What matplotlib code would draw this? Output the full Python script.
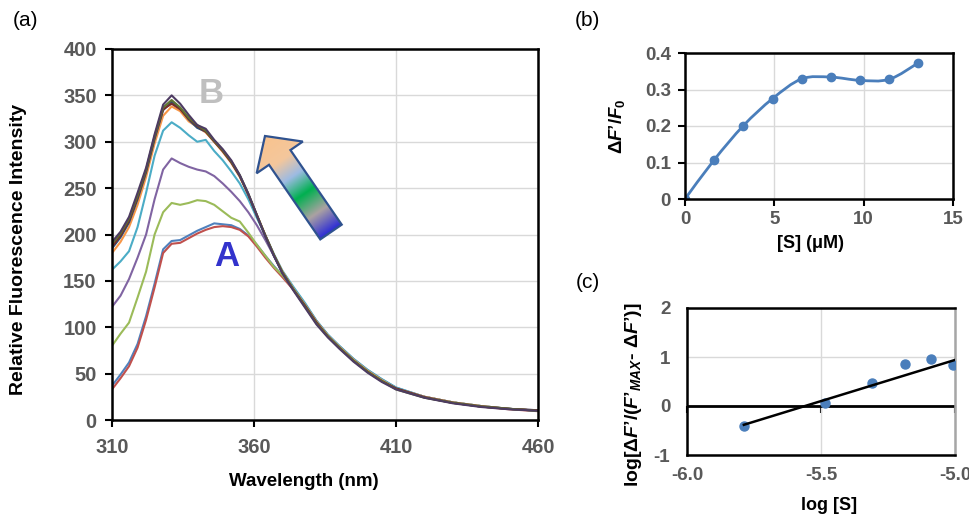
import numpy as np
import matplotlib
matplotlib.use("Agg")
import matplotlib.pyplot as plt
from matplotlib.path import Path
from matplotlib.patches import PathPatch, Polygon
from matplotlib.colors import LinearSegmentedColormap
from matplotlib.ticker import FormatStrFormatter

plt.rcParams['font.family'] = ['Liberation Sans', 'DejaVu Sans']
plt.rcParams['font.weight'] = 'bold'
plt.rcParams['axes.labelweight'] = 'bold'
plt.rcParams['axes.unicode_minus'] = False
plt.rcParams['mathtext.fontset'] = 'custom'
plt.rcParams['mathtext.rm'] = 'Liberation Sans:bold'
plt.rcParams['mathtext.it'] = 'Liberation Sans:italic:bold'
plt.rcParams['mathtext.bf'] = 'Liberation Sans:bold'

# %% data (a) - emission spectra

wl = [310, 313, 316, 319, 322, 325, 328, 331, 334, 337, 340, 343, 346, 349, 352, 355, 358, 361, 364, 367,
      370, 374, 378, 382, 386, 390, 395, 400, 405, 410, 420, 430, 440, 450, 460]

spec_blue = [37, 49, 62, 82, 112, 147, 184, 193, 194, 199, 204, 208, 212, 211, 210, 206, 199, 189, 177, 166,
             156, 142, 125, 107, 92, 80, 66, 54, 44, 35, 25, 19, 15, 12, 10.5]
spec_red = [33, 45, 58, 78, 108, 143, 180, 190, 191, 196, 201, 205, 208, 209, 208, 205, 198, 187, 175, 164,
            154, 140, 123, 106, 91, 79, 65, 53, 43, 34, 25, 19, 14.5, 11.5, 9.5]
spec_green = [80, 93, 105, 132, 160, 200, 224, 234, 232, 234, 237, 236, 232, 225, 218, 214, 202, 189, 177, 165,
              156, 141, 124, 106, 91, 79, 65, 53, 43, 34, 25, 19, 15, 12, 10]
spec_purple = [122, 134, 152, 175, 200, 238, 270, 282, 277, 273, 270, 268, 263, 255, 246, 236, 224, 210, 194, 177,
               160, 141, 124, 106, 91, 79, 65, 53, 43, 34, 25, 19, 15, 12, 10]
spec_aqua = [162, 171, 182, 208, 245, 285, 312, 321, 315, 307, 300, 302, 290, 280, 268, 255, 238, 218, 199, 179,
             161, 143, 126, 107, 92, 80, 66, 54, 44, 35, 25, 19, 15, 12, 10]
spec_orange = [180, 192, 208, 232, 262, 298, 328, 338, 333, 322, 316, 310, 300, 289, 277, 262, 243, 221, 199, 178,
               160, 141, 124, 106, 91, 79, 65, 53, 43, 34, 25, 19, 15, 12, 10]
spec_dblue = [185, 197, 213, 238, 267, 303, 334, 343, 336, 324, 315, 311, 301, 290, 278, 263, 243, 220, 198, 177,
              159, 140, 123, 105, 90, 78, 64, 52, 42, 34, 24.5, 18.5, 14.5, 12, 10]
spec_dred = [187, 199, 215, 240, 269, 305, 335, 341, 335, 325, 317, 311, 300, 290, 278, 263, 243, 221, 199, 178,
             159, 140, 123, 105, 90, 78, 64, 52, 42, 34, 24.5, 18.5, 14.5, 12, 10.5]
spec_dgreen = [190, 201, 217, 242, 270, 306, 337, 345, 337, 326, 318, 312, 301, 291, 279, 264, 244, 221, 199, 178,
               159, 140, 122, 104, 90, 78, 64, 52, 42, 33, 24, 18.5, 14.5, 12, 10]
spec_dpurple = [192, 203, 219, 245, 272, 308, 340, 350, 341, 329, 318, 314, 302, 292, 280, 264, 244, 221, 198, 177,
                158, 139, 121, 103, 89, 77, 63, 51, 41, 33, 24, 18, 14, 11.5, 10]

spectra = [spec_blue, spec_red, spec_green, spec_purple, spec_aqua,
           spec_orange, spec_dblue, spec_dred, spec_dgreen, spec_dpurple]
spec_colors = ['#4F81BD', '#C0504D', '#9BBB59', '#8064A2', '#4BACC6',
               '#F79646', '#2C4D75', '#772C2A', '#5F7530', '#4D3B62']

# %% data (b) and (c)

conc_uM = [0, 1.63, 3.27, 4.9, 6.53, 8.16, 9.8, 11.43, 13.06]
dF_F0 = [0.0, 0.107, 0.201, 0.275, 0.329, 0.334, 0.325, 0.328, 0.373]

hill_y = [-0.40, 0.07, 0.465, 0.86, 0.96, 0.83]
trend_slope = 1.68
trend_intercept = 9.34

# %% layout helpers

W, H = 969, 520
fig = plt.figure(figsize=(W / 100, H / 100), dpi=100)


def box(x0, y0, x1, y1):
    return [x0 / W, 1 - y1 / H, (x1 - x0) / W, (y1 - y0) / H]


def style(ax, size):
    for s in ax.spines.values():
        s.set_color('black')
        s.set_linewidth(1.8)
    ax.tick_params(direction='out', length=5, width=1.5, color='black',
                   labelcolor='#595959', labelsize=size)
    ax.grid(color='#D9D9D9', lw=1)
    ax.set_axisbelow(True)


def smooth_path(x, y):
    # Catmull-Rom style bezier like Excel smoothed lines
    p = np.column_stack([x, y]).astype(float)
    verts = [p[0]]
    codes = [Path.MOVETO]
    n = len(p)
    for i in range(n - 1):
        p0 = p[max(i - 1, 0)]
        p1 = p[i]
        p2 = p[i + 1]
        p3 = p[min(i + 2, n - 1)]
        c1 = p1 + (p2 - p0) / 6
        c2 = p2 - (p3 - p1) / 6
        verts += [c1, c2, p2]
        codes += [Path.CURVE4] * 3
    return Path(verts, codes)


# %% (a)

ax_a = fig.add_axes(box(112, 49, 538, 420))
style(ax_a, 14.5)
for vals, col in zip(spectra, spec_colors):
    ax_a.plot(wl, vals, color=col, lw=1.5)
ax_a.set_xlim(310, 460)
ax_a.set_ylim(0, 400)
ax_a.set_xticks([310, 360, 410, 460])
ax_a.set_yticks(np.arange(0, 401, 50))
ax_a.tick_params(axis='y', pad=6)
ax_a.tick_params(axis='x', pad=8)
ax_a.set_xlabel('Wavelength (nm)', fontsize=13.5)
ax_a.set_ylabel('Relative Fluorescence Intensity', fontsize=14)
ax_a.xaxis.set_label_coords(0.45, -0.142)
ax_a.yaxis.set_label_coords(-0.2, 0.46)
ax_a.text(344.8, 352, 'B', color='#BFBFBF', fontsize=25, ha='center', va='center')
ax_a.text(350.4, 176, 'A', color='#3333CC', fontsize=25, ha='center', va='center')

# %% (b)

ax_b = fig.add_axes(box(685, 53, 953, 199))
style(ax_b, 13.5)
ax_b.add_patch(PathPatch(smooth_path(conc_uM, dF_F0), fc='none', ec='#4A7EBB', lw=2))
ax_b.plot(conc_uM, dF_F0, 'o', color='#4A7EBB', ms=6)
ax_b.set_xlim(0, 15)
ax_b.set_ylim(0, 0.4)
ax_b.set_xticks([0, 5, 10, 15])
ax_b.set_yticks([0, 0.1, 0.2, 0.3, 0.4])
ax_b.set_yticklabels(['0', '0.1', '0.2', '0.3', '0.4'])
ax_b.tick_params(axis='y', pad=5)
ax_b.tick_params(axis='x', pad=4)
ax_b.set_xlabel('[S] (μM)', fontsize=13, color='black')
ax_b.set_ylabel('Δ$F$’/$F_0$', fontsize=13.5)
ax_b.xaxis.set_label_coords(0.47, -0.25)
ax_b.yaxis.set_label_coords(-0.215, 0.5)

# %% (c)

log_s = np.log10(np.array(conc_uM[1:7]) * 1e-6)
ax_c = fig.add_axes(box(687, 308, 955, 455))
style(ax_c, 13.5)
ax_c.spines['right'].set_color('#A6A6A6')
ax_c.axhline(0, color='black', lw=2, zorder=2.5)
ax_c.plot(log_s, hill_y, 'o', color='#4A7EBB', ms=6.5, zorder=3)
trend_x = np.array([log_s[0], -5.0])
ax_c.plot(trend_x, trend_slope * trend_x + trend_intercept, color='black', lw=1.8, zorder=4)
ax_c.set_xlim(-6.0, -5.0)
ax_c.set_ylim(-1, 2)
ax_c.set_xticks([-6.0, -5.5, -5.0])
ax_c.set_yticks([-1, 0, 1, 2])
ax_c.xaxis.set_major_formatter(FormatStrFormatter('%.1f'))
ax_c.tick_params(length=0)
ax_c.tick_params(axis='y', pad=12)
ax_c.tick_params(axis='x', pad=9)
zero = ax_c.secondary_xaxis(1 / 3)
zero.set_xticks([-6.0, -5.5, -5.0])
zero.tick_params(direction='out', length=5, width=1.5, color='black', labelbottom=False)
for s in zero.spines.values():
    s.set_visible(False)
ax_c.set_xlabel('log [S]', fontsize=13)
ax_c.set_ylabel('log[Δ$F$’/($F’_{MAX}$- Δ$F$’)]', fontsize=14)
ax_c.xaxis.set_label_coords(0.53, -0.285)
ax_c.yaxis.set_label_coords(-0.16, 0.41)

# %% panel letters and gradient arrow

fig.text(26 / W, 1 - 20 / H, '(a)', fontsize=15, fontweight='normal', ha='center', va='center')
fig.text(587 / W, 1 - 20 / H, '(b)', fontsize=15, fontweight='normal', ha='center', va='center')
fig.text(588 / W, 1 - 282 / H, '(c)', fontsize=15, fontweight='normal', ha='center', va='center')

ov = fig.add_axes([0, 0, 1, 1])
ov.axis('off')
tip = np.array([265.0, 136.0])
tail = np.array([331.0, 232.0])
L = np.linalg.norm(tip - tail)
u = (tip - tail) / L
pv = np.array([-u[1], u[0]])
base = tip - u * 26
pts = [tip, base + pv * 28, base + pv * 13, tail + pv * 13,
       tail - pv * 13, base - pv * 13, base - pv * 28]
arrow = Polygon(pts, closed=True, fc='none', ec='#2F528F', lw=1.6, zorder=3)
ov.add_patch(arrow)
xs = np.linspace(240, 350, 220)
ys = np.linspace(125, 250, 250)
X, Y = np.meshgrid(xs, ys)
t = np.clip(((X - tip[0]) * -u[0] + (Y - tip[1]) * -u[1]) / L, 0, 1)
grad = LinearSegmentedColormap.from_list('arrow', [
    (0.0, '#F9C38E'), (0.25, '#F4C79C'), (0.42, '#9DBBE3'),
    (0.6, '#00B050'), (0.8, '#ABA2A2'), (1.0, '#2B2BD6')])
im = ov.imshow(t, extent=(240, 350, 250, 125), origin='upper', cmap=grad,
               vmin=0, vmax=1, aspect='auto', interpolation='bilinear', zorder=2)
im.set_clip_path(arrow)
ov.set_xlim(0, W)
ov.set_ylim(H, 0)

plt.savefig('out.png', dpi=100)
plt.close()
